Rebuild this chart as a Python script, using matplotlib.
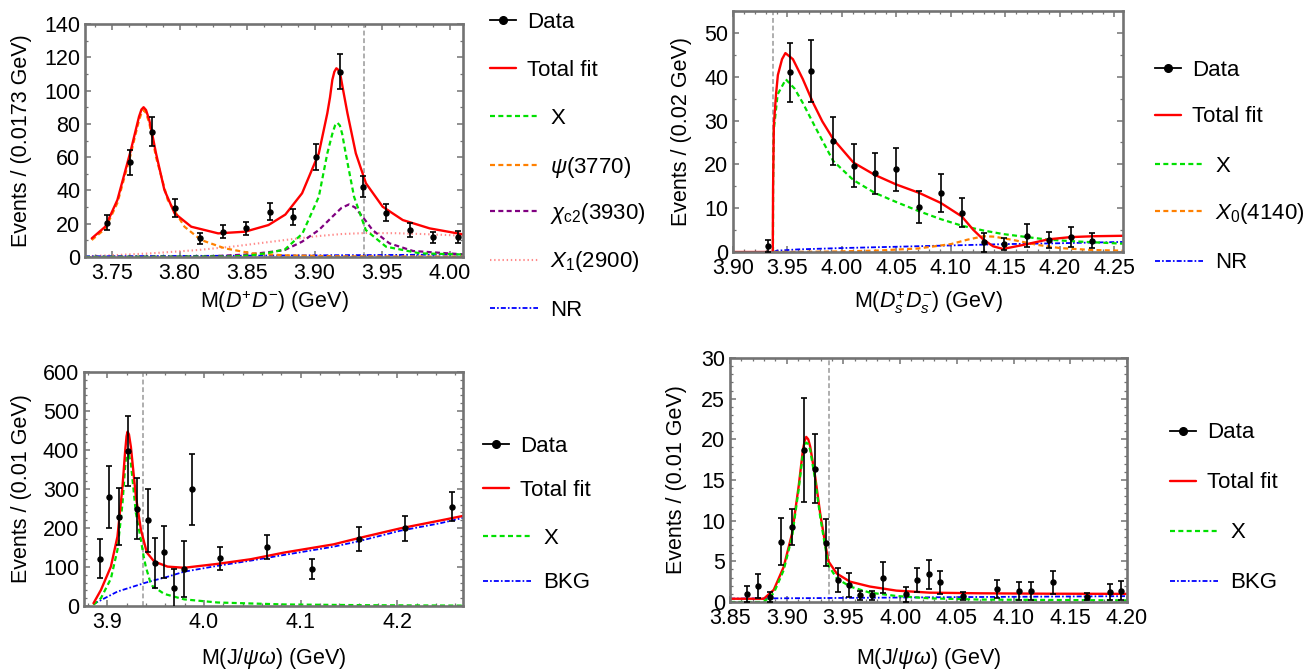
import matplotlib
matplotlib.use('Agg')
import matplotlib.pyplot as plt
from matplotlib.lines import Line2D
from matplotlib.ticker import MultipleLocator, AutoMinorLocator, FormatStrFormatter

# ---------------- data ----------------
threshold = 3.937  # gray dashed line in every panel

# panel 1 : M(D+D-)
dd_mass = [3.746, 3.763, 3.780, 3.797, 3.815, 3.832, 3.849, 3.867, 3.884, 3.901,
           3.919, 3.936, 3.953, 3.971, 3.988, 4.006]
dd_events = [20.6, 56.9, 75.3, 29.3, 11.2, 15.2, 17.2, 27.2, 24.2, 60.3,
             111.4, 42.3, 26.6, 16.2, 11.8, 12.0]
dd_err = [4.6, 7.5, 8.6, 5.4, 3.3, 3.9, 4.1, 5.2, 4.9, 7.8, 10.5, 6.5, 5.1, 4.0, 3.4, 3.5]

dd_fit_m = [3.735, 3.745, 3.754, 3.764, 3.7675, 3.770, 3.7718, 3.7734, 3.7752, 3.7776,
            3.780, 3.7826, 3.7888, 3.7963, 3.8087, 3.8286, 3.8485, 3.8659, 3.8784, 3.8908,
            3.9032, 3.9095, 3.9115, 3.9132, 3.9147, 3.9162, 3.9178, 3.9194, 3.9215, 3.9244,
            3.9306, 3.9381, 3.9505, 3.9654, 3.9853, 4.01]
dd_fit = [11.2, 18.2, 34.3, 64.3, 76.0, 84.3, 88.6, 90.0, 88.3, 82.3,
          73.0, 62.3, 40.3, 26.3, 18.2, 14.2, 15.2, 19.2, 25.5, 38.3,
          62.3, 86.4, 96.0, 106.4, 111.3, 113.4, 112.3, 108.4, 99.0, 86.4,
          62.3, 44.3, 30.2, 22.2, 17.2, 13.6]

dd_psi_m = [3.735, 3.745, 3.754, 3.764, 3.7675, 3.770, 3.7718, 3.7734, 3.7752, 3.7776,
            3.780, 3.7826, 3.7913, 3.8037, 3.816, 3.8336, 3.8535, 3.878, 3.92, 4.01]
dd_psi = [10.2, 17.0, 32.5, 62.0, 74.0, 82.0, 86.5, 88.3, 86.5, 80.5,
          71.0, 60.0, 34.3, 18.2, 10.2, 5.2, 2.2, 1.0, 0.4, 0.2]

dd_x_m = [3.73, 3.84, 3.855, 3.866, 3.878, 3.891, 3.9032, 3.9095, 3.9132, 3.9152,
          3.9169, 3.9188, 3.9205, 3.9231, 3.9293, 3.938, 3.953, 3.978, 4.01]
dd_x = [0.0, 0.3, 1.2, 2.5, 4.5, 14.0, 36.2, 62.3, 74.0, 79.0,
        80.7, 79.0, 74.0, 62.3, 36.2, 16.2, 6.2, 2.2, 1.5]

dd_chi_m = [3.73, 3.82, 3.85, 3.865, 3.878, 3.8908, 3.9032, 3.9132, 3.920, 3.9256,
            3.930, 3.9356, 3.943, 3.9555, 3.973, 4.01]
dd_chi = [0.0, 0.3, 1.5, 2.8, 4.2, 9.2, 16.2, 24.2, 29.5, 31.6,
          29.8, 24.2, 16.2, 8.2, 3.6, 1.6]

dd_x1_m = [3.735, 3.754, 3.779, 3.8137, 3.8386, 3.8634, 3.878, 3.903, 3.92, 3.938,
           3.96, 3.98, 4.01]
dd_x1 = [0.6, 1.2, 2.2, 4.2, 6.2, 8.7, 10.2, 12.6, 13.8, 14.4, 14.3, 13.8, 12.8]

dd_nr_m = [3.73, 3.85, 3.95, 4.01]
dd_nr = [0.4, 0.8, 1.2, 1.5]

# panel 2 : M(Ds+Ds-)
ds_mass = [3.932, 3.952, 3.972, 3.992, 4.011, 4.030, 4.050, 4.071, 4.091, 4.110,
           4.130, 4.149, 4.170, 4.190, 4.210, 4.230]
ds_events = [1.4, 41.0, 41.3, 25.3, 19.7, 18.0, 18.9, 10.3, 13.4, 9.0,
             2.2, 1.8, 3.7, 2.8, 3.4, 2.6]
ds_err = [1.4, 6.8, 7.0, 5.4, 4.9, 4.7, 4.9, 3.7, 4.3, 3.4, 2.2, 1.4, 2.6, 1.8, 2.2, 1.7]

ds_fit_m = [3.90, 3.9365, 3.9368, 3.9375, 3.9395, 3.9412, 3.945, 3.9481, 3.955, 3.964,
            3.9736, 3.982, 3.9919, 4.0106, 4.0301, 4.0499, 4.0708, 4.0907, 4.1101, 4.1204,
            4.13, 4.1388, 4.1478, 4.1662, 4.1898, 4.21, 4.231, 4.2577]
ds_fit = [0.0, 0.0, 15.0, 29.0, 36.0, 40.4, 44.0, 45.4, 44.0, 39.5,
          34.0, 29.8, 25.8, 20.4, 17.6, 15.4, 13.5, 11.2, 8.1, 5.1,
          2.8, 1.3, 0.7, 1.6, 2.9, 3.4, 3.6, 3.7]

ds_x_m = [3.9367, 3.9368, 3.9375, 3.941, 3.9485, 3.9565, 3.9641, 3.9755, 3.9919, 4.0106,
          4.0301, 4.0499, 4.0708, 4.0907, 4.1101, 4.13, 4.1478, 4.17, 4.1898, 4.2158, 4.2577]
ds_x = [0.0, 15.0, 28.0, 36.0, 39.4, 37.3, 34.0, 28.5, 20.8, 16.4,
        13.5, 11.4, 9.3, 7.5, 6.0, 4.9, 4.1, 3.4, 2.8, 2.4, 1.9]

ds_x0_m = [3.9375, 3.99, 4.03, 4.07, 4.10, 4.115, 4.13, 4.14, 4.16, 4.18, 4.20, 4.23, 4.2577]
ds_x0 = [0.0, 0.1, 0.3, 0.8, 1.8, 2.8, 3.6, 3.5, 2.6, 1.6, 0.9, 0.45, 0.3]

ds_nr_m = [3.9375, 3.94, 3.96, 4.00, 4.05, 4.10, 4.15, 4.20, 4.2577]
ds_nr = [0.0, 0.3, 0.6, 0.9, 1.2, 1.5, 1.8, 2.0, 2.3]

# panel 3 : M(J/psi omega), 0.01 GeV bins
jw_mass = [3.893, 3.902, 3.912, 3.921, 3.931, 3.942, 3.949, 3.959, 3.969, 3.979,
           3.988, 4.017, 4.065, 4.112, 4.160, 4.208, 4.257]
jw_events = [121, 280, 229, 398, 250, 220, 110, 139, 45, 95, 299, 122, 152, 94, 171, 199, 255]
jw_err = [50, 79, 73, 90, 79, 81, 65, 66, 51, 72, 92, 30, 31, 26, 31, 33, 37]

jw_fit_m = [3.8858, 3.8935, 3.9038, 3.9106, 3.9158, 3.9185, 3.9200, 3.921, 3.9225, 3.9245,
            3.9297, 3.9349, 3.941, 3.9486, 3.9624, 3.9796, 4.014, 4.0486, 4.083, 4.134,
            4.16, 4.203, 4.244, 4.268]
jw_fit = [7, 41, 101, 178, 306, 395, 435, 447, 440, 408,
          280, 195, 137, 114, 101, 98, 108, 120, 137, 158,
          174, 199, 219, 231]

jw_x_m = [3.8858, 3.8935, 3.9038, 3.9106, 3.9158, 3.9185, 3.9203, 3.9222, 3.9245, 3.9297,
          3.9349, 3.9375, 3.940, 3.9445, 3.9469, 3.959, 3.9796, 4.014, 4.083, 4.17, 4.268]
jw_x = [3, 20, 70, 144, 263, 355, 400, 390, 366, 238,
        169, 130, 100, 62, 51, 31, 17, 9, 4, 2, 1]

jw_bkg_m = [3.8858, 3.9106, 3.94, 3.9624, 3.9796, 4.014, 4.05, 4.083, 4.134, 4.16,
            4.203, 4.244, 4.268]
jw_bkg = [5, 37, 60, 75, 88, 103, 117, 131, 152, 166, 193, 212, 226]

# panel 4 : M(J/psi omega), second sample
jw2_mass = [3.865, 3.875, 3.885, 3.895, 3.905, 3.915, 3.925, 3.935, 3.945, 3.955,
            3.965, 3.975, 3.985, 4.005, 4.015, 4.025, 4.035, 4.055, 4.085, 4.105,
            4.115, 4.135, 4.165, 4.185, 4.195]
jw2_events = [1.0, 2.0, 0.65, 7.4, 9.2, 18.7, 16.4, 7.3, 2.7, 2.1,
              0.8, 0.8, 3.0, 0.95, 2.7, 3.4, 2.4, 0.7, 1.6, 1.35,
              1.35, 2.4, 0.65, 1.27, 1.4]
jw2_err = [1.0, 1.5, 0.6, 2.9, 2.25, 6.4, 4.2, 2.9, 1.5, 1.5,
           0.6, 0.6, 1.9, 0.9, 1.5, 1.8, 1.4, 0.5, 1.1, 1.1,
           1.1, 1.4, 0.4, 1.0, 1.2]

jw2_fit_m = [3.85, 3.8798, 3.8886, 3.8973, 3.9047, 3.9105, 3.9143, 3.9158, 3.9172, 3.919,
             3.9207, 3.9251, 3.9295, 3.9339, 3.9368, 3.9441, 3.9558, 3.9733, 3.9967, 4.0259,
             4.0697, 4.13, 4.20]
jw2_fit = [0.4, 0.4, 1.5, 4.3, 8.4, 14.2, 18.7, 19.8, 20.3, 20.0,
           19.1, 15.4, 10.9, 7.2, 5.0, 3.5, 2.5, 1.9, 1.4, 1.15,
           1.07, 1.02, 1.0]
jw2_x = [0.0, 0.0, 1.1, 3.9, 8.0, 13.8, 18.3, 19.3, 19.6, 19.4,
         18.7, 15.0, 10.5, 6.8, 4.5, 2.9, 1.9, 1.15, 0.74, 0.45,
         0.3, 0.25, 0.2]
jw2_bkg_m = [3.85, 3.95, 4.05, 4.20]
jw2_bkg = [0.42, 0.5, 0.6, 0.72]

# ---------------- styles ----------------
W, H = 1312, 670
RED, GREEN, ORANGE = '#ff0000', '#00e000', '#ff8000'
PURPLE, PINK, BLUE, GRAY = '#800080', '#ff8a8a', '#0000ff', '#999999'
FRAME = '#737373'

plt.rcParams['font.family'] = ['Liberation Sans', 'DejaVu Sans']
plt.rcParams['mathtext.fontset'] = 'custom'
plt.rcParams['mathtext.rm'] = 'Liberation Sans'
plt.rcParams['mathtext.it'] = 'Liberation Sans:italic'
plt.rcParams['mathtext.bf'] = 'Liberation Sans:bold'
plt.rcParams['lines.scale_dashes'] = False
FS = 15.5

fit_kw = dict(color=RED, lw=1.7, solid_capstyle='round')
x_kw = dict(color=GREEN, lw=1.6, dashes=(3.6, 2.4))
psi_kw = dict(color=ORANGE, lw=1.6, dashes=(3.6, 2.4))
chi_kw = dict(color=PURPLE, lw=1.6, dashes=(3.6, 2.4))
x1_kw = dict(color=PINK, lw=1.5, dashes=(1.0, 2.0))
nr_kw = dict(color=BLUE, lw=1.3, dashes=(3.6, 1.5, 1.2, 1.5))


def rect(l, t, r, b):
    return [l / W, 1 - b / H, (r - l) / W, (b - t) / H]


def setup(ax, xlim, ylim, xstep, xminor, ystep, yminor, xfmt, xlabel, ylabel, lx, ly):
    ax.set_xlim(*xlim)
    ax.set_ylim(*ylim)
    ax.xaxis.set_major_locator(MultipleLocator(xstep))
    ax.xaxis.set_minor_locator(AutoMinorLocator(xminor))
    ax.yaxis.set_major_locator(MultipleLocator(ystep))
    ax.yaxis.set_minor_locator(AutoMinorLocator(yminor))
    ax.xaxis.set_major_formatter(FormatStrFormatter(xfmt))
    ax.tick_params(which='both', direction='in', top=True, right=True, color=FRAME,
                   labelsize=FS, labelcolor='black')
    ax.tick_params(which='major', length=4.5, width=1.1)
    ax.tick_params(which='minor', length=2.5, width=0.9)
    ax.tick_params(axis='x', pad=4.0)
    ax.tick_params(axis='y', pad=3.5)
    for s in ax.spines.values():
        s.set_color(FRAME)
        s.set_linewidth(1.9)
    ax.set_xlabel(xlabel, fontsize=FS)
    ax.set_ylabel(ylabel, fontsize=FS)
    ax.xaxis.set_label_coords(0.5, ly)
    ax.yaxis.set_label_coords(lx, 0.5)
    ax.xaxis.label.set_va('center')
    ax.yaxis.label.set_va('center')
    ax.axvline(threshold, color=GRAY, lw=1.1, dashes=(3.5, 2.0), zorder=1)


def data(ax, m, n, e):
    ax.errorbar(m, n, yerr=e, fmt='o', color='black', ms=3.6, elinewidth=1.2,
                capsize=2.2, capthick=1.2, zorder=5)


def legend(fig, entries, x_px, ys):
    for (h, lab, solid), y in zip(entries, ys):
        fig.legend([h], [lab], loc='center left', bbox_to_anchor=(x_px / W, 1 - y / H),
                   frameon=False, borderpad=0, borderaxespad=0, fontsize=FS + 0.5,
                   handlelength=1.17 if solid else 2.16,
                   handletextpad=0.5 if solid else 0.55)


data_h = Line2D([], [], color='black', lw=1.3, marker='o', ms=5.5)
fit_h = Line2D([], [], **fit_kw)
x_h = Line2D([], [], **x_kw)
nr_h = Line2D([], [], **nr_kw)

fig = plt.figure(figsize=(W / 100, H / 100), dpi=100, facecolor='white')

# ---- panel 1
ax1 = fig.add_axes(rect(85, 24, 463, 257))
ax1.plot(dd_x1_m, dd_x1, **x1_kw)
ax1.plot(dd_nr_m, dd_nr, **nr_kw)
ax1.plot(dd_chi_m, dd_chi, **chi_kw)
ax1.plot(dd_psi_m, dd_psi, **psi_kw)
ax1.plot(dd_x_m, dd_x, **x_kw)
ax1.plot(dd_fit_m, dd_fit, **fit_kw)
data(ax1, dd_mass, dd_events, dd_err)
setup(ax1, (3.73, 4.01), (0, 140), 0.05, 4, 20, 2, '%.2f',
      r'M($D^{+}D^{-}$) (GeV)', 'Events / (0.0173 GeV)', -0.167, -0.19)
legend(fig, [(data_h, 'Data', True), (fit_h, 'Total fit', True), (x_h, 'X', False),
             (Line2D([], [], **psi_kw), r'$\psi$(3770)', False),
             (Line2D([], [], **chi_kw), r'$\chi_{\rm c2}$(3930)', False),
             (Line2D([], [], **x1_kw), r'$X_1$(2900)', False),
             (nr_h, 'NR', False)],
       490, [22.7, 70, 118, 167, 213, 262, 310])

# ---- panel 2
ax2 = fig.add_axes(rect(733, 11, 1123, 252))
ax2.plot(ds_nr_m, ds_nr, **nr_kw)
ax2.plot(ds_x0_m, ds_x0, **psi_kw)
ax2.plot(ds_x_m, ds_x, **x_kw)
ax2.plot(ds_fit_m, ds_fit, **fit_kw)
data(ax2, ds_mass, ds_events, ds_err)
setup(ax2, (3.90, 4.258), (0, 55), 0.05, 5, 10, 2, '%.2f',
      r'M($D_s^{+}D_s^{-}$) (GeV)', 'Events / (0.02 GeV)', -0.133, -0.21)
legend(fig, [(data_h, 'Data', True), (fit_h, 'Total fit', True), (x_h, 'X', False),
             (Line2D([], [], **psi_kw), r'$X_0$(4140)', False), (nr_h, 'NR', False)],
       1155, [70, 117, 166, 213, 263])

# ---- panel 3
ax3 = fig.add_axes(rect(84, 372, 463, 606))
ax3.plot(jw_bkg_m, jw_bkg, **nr_kw)
ax3.plot(jw_x_m, jw_x, **x_kw)
ax3.plot(jw_fit_m, jw_fit, **fit_kw)
data(ax3, jw_mass, jw_events, jw_err)
setup(ax3, (3.876, 4.268), (0, 600), 0.1, 5, 100, 5, '%.1f',
      r'M(J/$\psi\omega$) (GeV)', 'Events / (0.01 GeV)', -0.166, -0.225)
legend(fig, [(data_h, 'Data', True), (fit_h, 'Total fit', True), (x_h, 'X', False),
             (nr_h, 'BKG', False)],
       483, [446, 490, 538, 583])

# ---- panel 4
ax4 = fig.add_axes(rect(730, 358, 1127, 602))
ax4.plot(jw2_bkg_m, jw2_bkg, **nr_kw)
ax4.plot(jw2_fit_m, jw2_fit, **fit_kw)
ax4.plot(jw2_fit_m, jw2_x, **x_kw)
data(ax4, jw2_mass, jw2_events, jw2_err)
setup(ax4, (3.85, 4.20), (0, 30), 0.05, 5, 5, 5, '%.2f',
      r'M(J/$\psi\omega$) (GeV)', 'Events / (0.01 GeV)', -0.134, -0.232)
legend(fig, [(data_h, 'Data', True), (fit_h, 'Total fit', True), (x_h, 'X', False),
             (nr_h, 'BKG', False)],
       1170, [433, 483, 533, 583])

fig.savefig('out.png', dpi=100, facecolor='white')
